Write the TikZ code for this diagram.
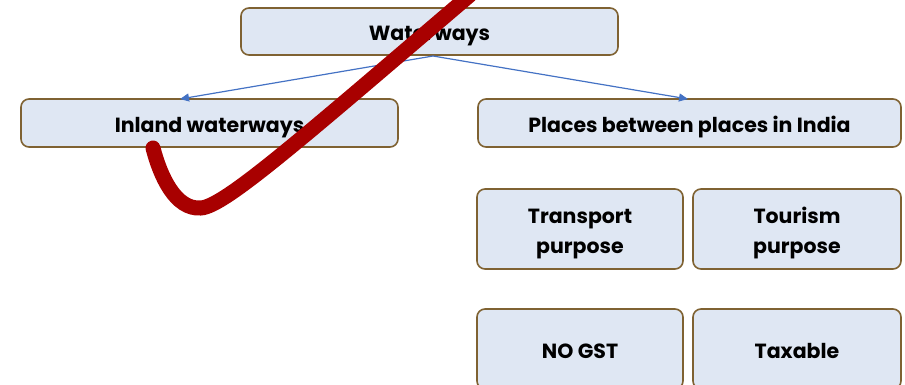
\documentclass[tikz,border=0pt]{standalone}
\usepackage{fontspec}
\setmainfont{Poppins}
\usetikzlibrary{arrows.meta}
\definecolor{boxfill}{HTML}{DFE7F3}
\definecolor{boxline}{HTML}{7F6232}
\definecolor{arr}{HTML}{4472C4}
\definecolor{tick}{HTML}{A80000}
\newcommand{\lbl}[1]{\raisebox{-3pt}[\height][\depth]{\begin{tabular}{@{}c@{}}#1\end{tabular}}}
\tikzset{
  box/.style={draw=boxline, line width=1.6pt, fill=boxfill, rounded corners=8pt, font=\bfseries\fontsize{20.5}{30}\selectfont, align=center, inner sep=0pt},
  link/.style={draw=arr, line width=1.2pt, -{Triangle[length=9pt,width=8pt]}}
}
\begin{document}
\begin{tikzpicture}[x=1pt,y=-1pt]
\useasboundingbox (0,0) rectangle (905,384);
\node[box, minimum width=377pt, minimum height=47pt] (w) at (429.5,31.5) {\lbl{Waterways}};
\node[box, minimum width=377pt, minimum height=48pt] (iw) at (209.5,123) {\lbl{Inland waterways}};
\node[box, minimum width=423pt, minimum height=48pt] (pb) at (689.5,123) {\lbl{Places between places in India}};
\node[box, minimum width=206pt, minimum height=80pt] (tp) at (580,229) {\lbl{Transport\\purpose}};
\node[box, minimum width=208pt, minimum height=80pt] (tu) at (797,229) {\lbl{Tourism\\purpose}};
\node[box, minimum width=206pt, minimum height=80pt] (ng) at (580,349) {\lbl{NO GST}};
\node[box, minimum width=208pt, minimum height=80pt] (tx) at (797,349) {\lbl{Taxable}};
\coordinate (src) at (433,56);
\coordinate (iwt) at (180,99);
\coordinate (pbt) at (688,99);
\draw[link] (src) -- (iwt);
\draw[link] (src) -- (pbt);
\coordinate (t0) at (153,148);
\coordinate (t1) at (201,208);
\coordinate (t2) at (470,-5);
\draw[tick, line width=15pt, line cap=round, line join=round]
  (t0) .. controls (160,175) and (175,210) .. (t1)
  .. controls (225,206) and (300,140) .. (t2);
\end{tikzpicture}
\end{document}
